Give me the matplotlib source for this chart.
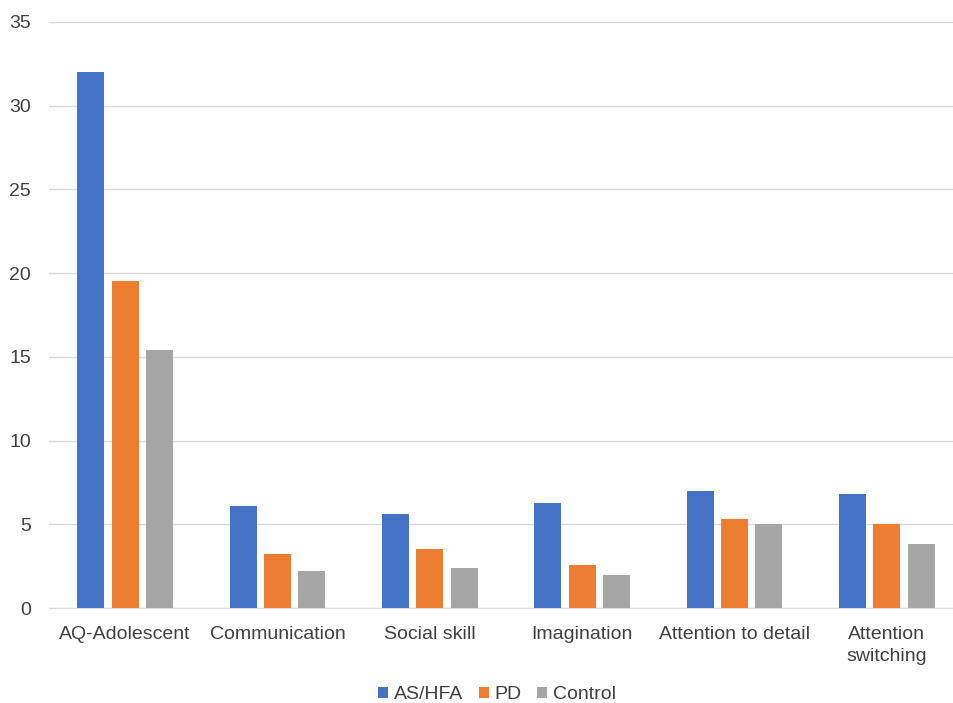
import numpy as np
import matplotlib.pyplot as plt

# data
categories = ['AQ-Adolescent', 'Communication', 'Social skill', 'Imagination',
              'Attention to detail', 'Attention\nswitching']
as_hfa = [32.0, 6.1, 5.6, 6.3, 7.0, 6.8]
pd_vals = [19.5, 3.2, 3.5, 2.6, 5.3, 5.0]
control = [15.4, 2.2, 2.4, 2.0, 5.0, 3.8]
series_names = ['AS/HFA', 'PD', 'Control']
colors = ['#4472C4', '#ED7D31', '#A5A5A5']

plt.rcParams['font.family'] = ['Liberation Sans', 'DejaVu Sans']

fig = plt.figure(figsize=(9.54, 7.03), dpi=100)
# plot area runs a little past the right edge (the reference is cropped there)
ax = fig.add_axes([49 / 954, 0.135, 914 / 954, 0.834])

x = np.arange(len(categories))
width = 0.177
offsets = [-0.226, 0, 0.226]
for vals, name, col, off in zip([as_hfa, pd_vals, control], series_names, colors, offsets):
    ax.bar(x + off, vals, width, color=col, label=name, zorder=3)

ax.set_xlim(-0.5, len(categories) - 0.5)
ax.set_ylim(0, 35)
ax.set_yticks(range(0, 36, 5))
ax.set_xticks(x)
ax.set_xticklabels(categories, linespacing=1.4)
ax.grid(axis='y', color='#D9D9D9', linewidth=1, zorder=0)
for s in ['top', 'right', 'left']:
    ax.spines[s].set_visible(False)
ax.spines['bottom'].set_color('#D9D9D9')
ax.tick_params(axis='both', length=0, labelsize=14, colors='#404040')
ax.tick_params(axis='y', pad=13)
ax.tick_params(axis='x', pad=13)

fig.legend(loc='lower center', ncol=3, frameon=False, fontsize=14,
           handlelength=0.5, handleheight=0.5, handletextpad=0.3,
           columnspacing=0.8, bbox_to_anchor=(0.521, -0.025),
           labelcolor='#404040')

fig.savefig('out.png', dpi=100)
